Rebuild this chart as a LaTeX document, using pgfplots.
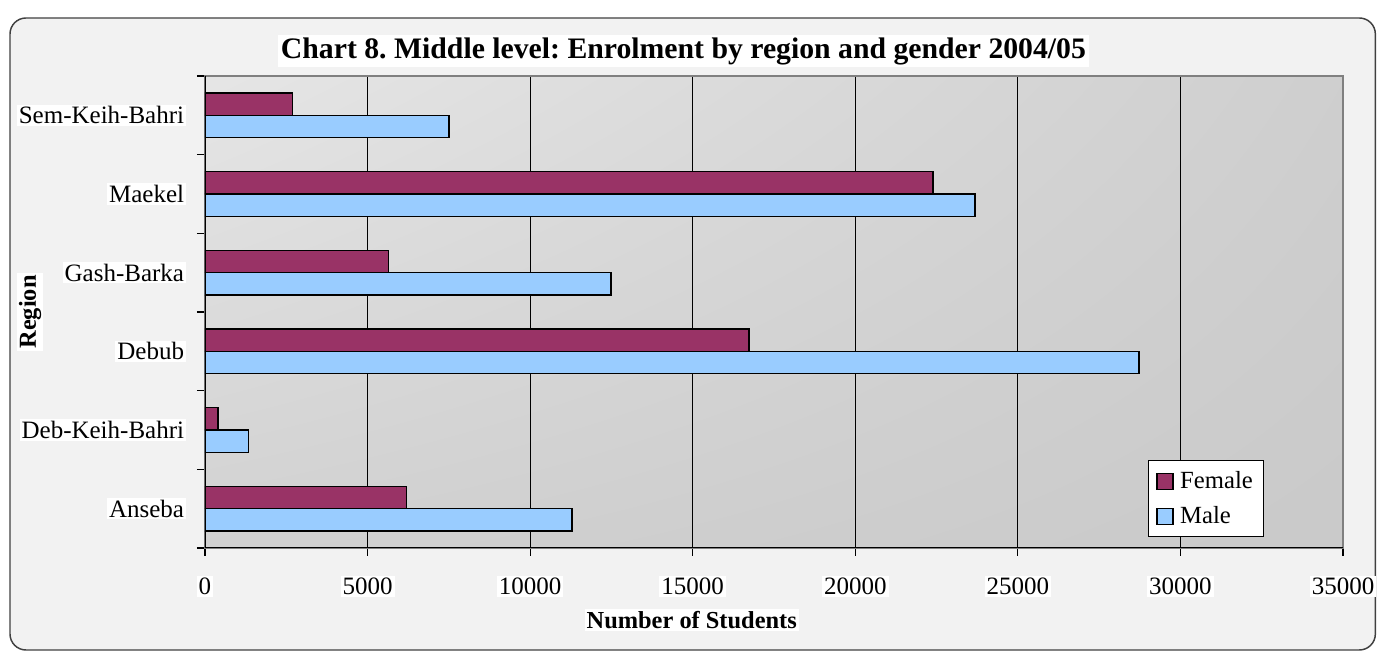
\documentclass[border=0pt]{standalone}
\usepackage{fontspec}
\setmainfont{Liberation Serif}
\usepackage{pgfplots}
\usepackage{pgfplotstable}
\pgfplotsset{compat=1.18}
\usetikzlibrary{shadings}
\definecolor{fem}{HTML}{993366}
\definecolor{mal}{HTML}{99CCFF}
\definecolor{framebg}{HTML}{F2F2F2}
\frenchspacing

\pgfplotstableread{
idx female male
0 6190 11285
1 400 1344
2 16728 28721
3 5650 12485
4 22390 23678
5 2690 7500
}\datatable

\begin{document}
\begin{tikzpicture}
\useasboundingbox (0,0) rectangle (1034.25pt,489pt);
\draw[rounded corners=12pt, fill=framebg, draw=black!75, line width=1.1pt] (7.5pt,1.5pt) rectangle (1031.5pt,475.5pt);
\begin{axis}[
  at={(153.75pt,78pt)}, anchor=south west,
  scale only axis, width=853.5pt, height=354pt,
  xbar, bar width=16.7pt,
  xmin=0, xmax=35000, ymin=-0.5, ymax=5.5,
  xtick={0,5000,...,35000},
  scaled x ticks=false,
  /pgf/number format/1000 sep={},
  /pgf/number format/assume math mode=true,
  xmajorgrids, grid style={black, line width=0.6pt},
  ytick={-0.5,0.5,...,5.5}, yticklabels={},
  extra y ticks={0,1,2,3,4,5},
  extra y tick labels={Anseba,Deb-Keih-Bahri,Debub,Gash-Barka,Maekel,Sem-Keih-Bahri},
  extra y tick style={major tick length=0pt, tick style={draw=none}, grid=none,
     yticklabel style={fill=white, inner sep=1.5pt, anchor=east, xshift=-14pt}},
  tick align=outside, xtick pos=bottom, ytick pos=left,
  major tick length=6pt,
  tick style={black, line width=0.8pt},
  axis line style={draw=gray, line width=1.1pt},
  ticklabel style={font=\fontsize{18.75pt}{22pt}\selectfont},
  xticklabel style={fill=white, inner sep=1.5pt, yshift=-15pt},
  axis background/.style={shade, upper left=black!10, upper right=black!19, lower left=black!18, lower right=black!21},
  xlabel={Number of Students},
  xlabel style={font=\bfseries\fontsize{18.3pt}{22pt}\selectfont, fill=white, inner sep=1.5pt, at={(axis description cs:0.4277,-0.1525)}, anchor=center},
  ylabel={Region},
  ylabel style={font=\bfseries\fontsize{18.3pt}{22pt}\selectfont, fill=white, inner sep=1.5pt, at={(axis description cs:-0.1538,0.5)}, anchor=center},
  legend style={at={(0.9306,0.0233)}, anchor=south east, draw=black, line width=0.8pt, fill=white,
     font=\fontsize{18.5pt}{22pt}\selectfont, row sep=8pt, inner xsep=6pt, inner ysep=6pt, cells={anchor=west},
     /tikz/every odd column/.append style={column sep=3pt}},
]
\addplot[fill=fem, draw=black, line width=1.1pt, bar shift=8.35pt,
  legend image code/.code={\draw[fill=fem, draw=black, line width=0.8pt] (0pt,-6pt) rectangle (12pt,6pt);}]
  table[x=female, y=idx] {\datatable};
\addplot[fill=mal, draw=black, line width=1.1pt, bar shift=-8.35pt,
  legend image code/.code={\draw[fill=mal, draw=black, line width=0.8pt] (0pt,-6pt) rectangle (12pt,6pt);}]
  table[x=male, y=idx] {\datatable};
\legend{Female,Male}
\draw[black, line width=1.1pt] (rel axis cs:0,1) -- (rel axis cs:0,0) -- (rel axis cs:1,0);
\end{axis}
\node[font=\bfseries\fontsize{22.3pt}{26pt}\selectfont, fill=white, inner sep=2pt] at (512.6pt,450.75pt) {Chart 8. Middle level: Enrolment by region and gender 2004/05};
\end{tikzpicture}
\end{document}
